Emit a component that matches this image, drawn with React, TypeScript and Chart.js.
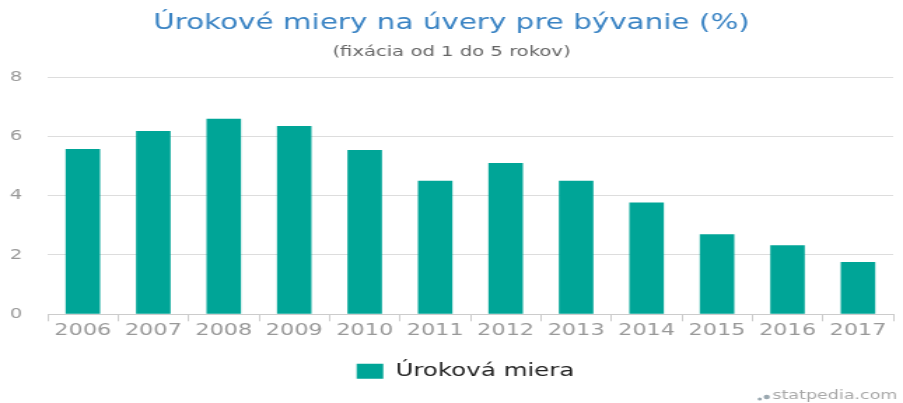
import React, { useEffect, useRef } from "react";
import { Chart, registerables } from "chart.js";

Chart.register(...registerables);

const categories = ["2006", "2007", "2008", "2009", "2010", "2011", "2012", "2013", "2014", "2015", "2016", "2017"];
const rates = [5.57, 6.18, 6.59, 6.35, 5.54, 4.5, 5.1, 4.5, 3.77, 2.7, 2.33, 1.76];
const yTicks = [0, 2, 4, 6, 8];
const seriesName = "Úroková miera";
const titleText = "Úrokové miery na úvery pre bývanie (%)";
const subtitleText = "(fixácia od 1 do 5 rokov)";
const watermarkText = "statpedia.com";

// The reference image is horizontally stretched; draw narrower and stretch via CSS.
const CANVAS_W = 645;
const CANVAS_H = 403;

const watermarkPlugin = {
  id: "watermark",
  afterDraw(chart: any) {
    const ctx = chart.ctx as CanvasRenderingContext2D;
    ctx.save();
    ctx.font = "12.5px 'DejaVu Sans'";
    ctx.fillStyle = "#a8a8a8";
    ctx.textAlign = "right";
    ctx.textBaseline = "middle";
    const right = chart.width - 4;
    const y = 396;
    ctx.fillText(watermarkText, right, y);
    const w = ctx.measureText(watermarkText).width;
    ctx.beginPath();
    ctx.arc(right - w - 4, y + 1, 2.2, 0, Math.PI * 2);
    ctx.fillStyle = "#9aa8b0";
    ctx.fill();
    ctx.beginPath();
    ctx.arc(right - w - 9, y + 3, 1.5, 0, Math.PI * 2);
    ctx.fill();
    ctx.restore();
  },
};

// Center the legend under the plot area rather than the whole canvas.
const legendShiftPlugin = {
  id: "legendShift",
  afterLayout(chart: any) {
    const l = chart.legend;
    const ca = chart.chartArea;
    if (!l || !ca) return;
    const shift = (ca.left + ca.right) / 2 - (l.left + l.right) / 2 - 3.5;
    l.left += shift;
    l.right += shift;
  },
};

export default function App() {
  const ref = useRef<HTMLCanvasElement | null>(null);
  useEffect(() => {
    document.body.style.margin = "0";
    const ctx = ref.current!.getContext("2d")!;
    const chart = new Chart(ctx, {
      type: "bar",
      data: {
        labels: categories,
        datasets: [
          {
            label: seriesName,
            data: rates,
            backgroundColor: "#00a597",
            borderWidth: 0,
            barPercentage: 0.49,
            categoryPercentage: 1,
          },
        ],
      },
      plugins: [watermarkPlugin, legendShiftPlugin],
      options: {
        animation: false,
        responsive: false,
        devicePixelRatio: 1,
        layout: { padding: { left: 7, right: 7, top: 0, bottom: 13 } },
        plugins: {
          title: {
            display: true,
            text: titleText,
            color: "#3b84c4",
            font: { family: "DejaVu Sans", size: 21, weight: "normal" },
            padding: { top: 11, bottom: 8 },
          },
          subtitle: {
            display: true,
            text: subtitleText,
            color: "#666666",
            font: { family: "DejaVu Sans", size: 14, weight: "normal" },
            padding: { top: 0, bottom: 16 },
          },
          legend: {
            position: "bottom",
            labels: {
              color: "#222222",
              boxWidth: 19,
              boxHeight: 15,
              padding: 22,
              font: { family: "DejaVu Sans", size: 17.5 },
            },
          },
          tooltip: { enabled: false },
        },
        scales: {
          x: {
            afterFit: (scale: any) => {
              scale.paddingLeft = 0;
              scale.paddingRight = 0;
            },
            grid: {
              display: true,
              drawOnChartArea: false,
              drawTicks: true,
              tickLength: 7,
              color: "#cccccc",
              offset: true,
            },
            border: { color: "#cccccc" },
            ticks: {
              color: "#999999",
              font: { family: "DejaVu Sans", size: 16 },
              padding: 0,
              maxRotation: 0,
            },
          },
          y: {
            min: 0,
            max: 8,
            afterBuildTicks: (axis: any) => {
              axis.ticks = yTicks.map((v) => ({ value: v }));
            },
            afterFit: (scale: any) => {
              scale.width = 27;
            },
            grid: { color: "#dddddd", drawTicks: false },
            border: { display: false },
            ticks: {
              color: "#999999",
              font: { family: "DejaVu Sans", size: 14 },
              padding: 18,
            },
          },
        },
      },
    });
    return () => chart.destroy();
  }, []);
  return (
    <div style={{ position: "relative", width: 903, height: 403 }}>
      <canvas
        ref={ref}
        width={CANVAS_W}
        height={CANVAS_H}
        style={{ width: "903px", height: "403px", display: "block" }}
      />
    </div>
  );
}
